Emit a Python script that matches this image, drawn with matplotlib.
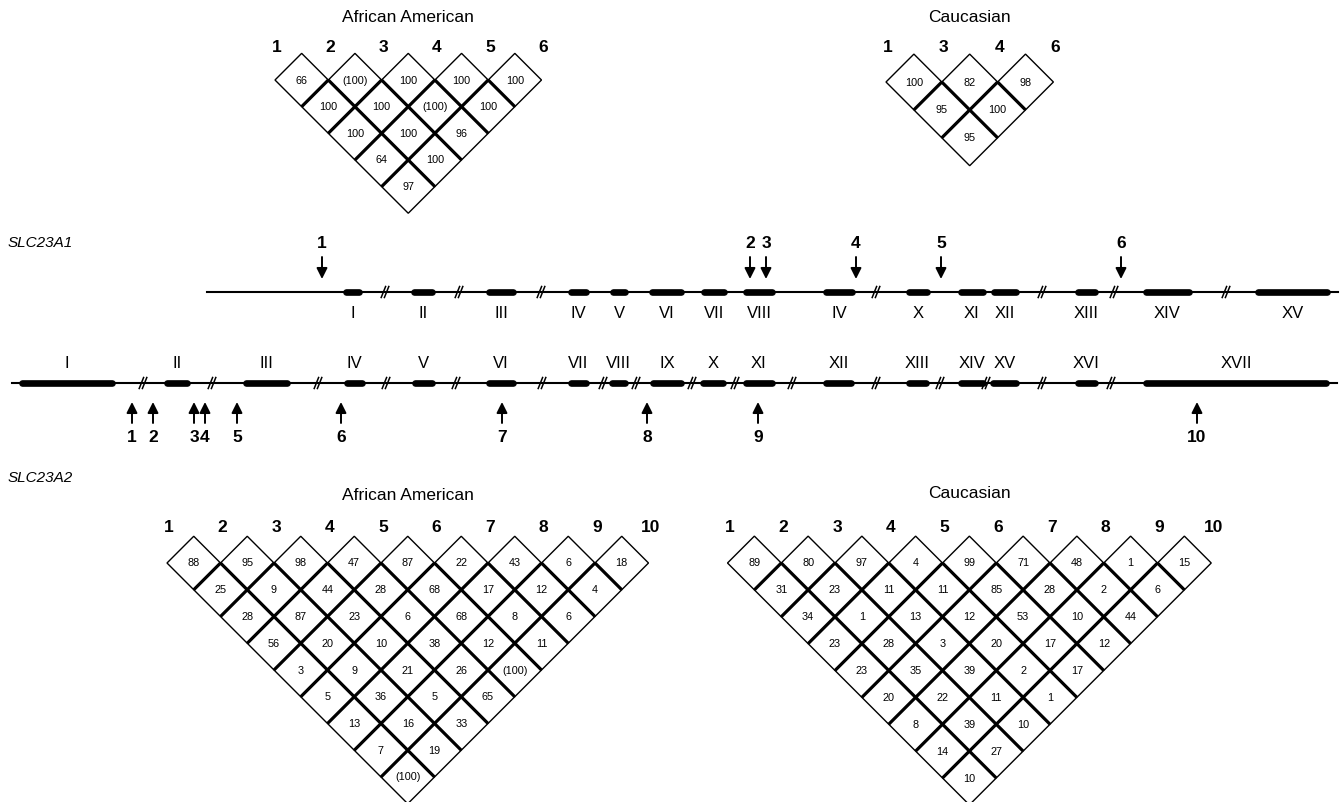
## LD maps and gene structure of SLC23A1 / SLC23A2
import numpy as np
import matplotlib
matplotlib.use('Agg')
import matplotlib.pyplot as plt

plt.rcParams['font.family'] = ['Liberation Sans', 'DejaVu Sans']

##------ LD values (D'), one list per diagonal row of the triangle ------##
a1_afr_snps = ['1', '2', '3', '4', '5', '6']
a1_afr_ld = [
    ['66', '(100)', '100', '100', '100'],
    ['100', '100', '(100)', '100'],
    ['100', '100', '96'],
    ['64', '100'],
    ['97'],
]
a1_cau_snps = ['1', '3', '4', '6']
a1_cau_ld = [
    ['100', '82', '98'],
    ['95', '100'],
    ['95'],
]
a2_snps = ['1', '2', '3', '4', '5', '6', '7', '8', '9', '10']
a2_afr_ld = [
    ['88', '95', '98', '47', '87', '22', '43', '6', '18'],
    ['25', '9', '44', '28', '68', '17', '12', '4'],
    ['28', '87', '23', '6', '68', '8', '6'],
    ['56', '20', '10', '38', '12', '11'],
    ['3', '9', '21', '26', '(100)'],
    ['5', '36', '5', '65'],
    ['13', '16', '33'],
    ['7', '19'],
    ['(100)'],
]
a2_cau_ld = [
    ['89', '80', '97', '4', '99', '71', '48', '1', '15'],
    ['31', '23', '11', '11', '85', '28', '2', '6'],
    ['34', '1', '13', '12', '53', '10', '44'],
    ['23', '28', '3', '20', '17', '12'],
    ['23', '35', '39', '2', '17'],
    ['20', '22', '11', '1'],
    ['8', '39', '10'],
    ['14', '27'],
    ['10'],
]

##------ gene maps (schematic map units) ------##
a1_span = (207, 1338)
a1_exon_lab = ['I', 'II', 'III', 'IV', 'V', 'VI', 'VII', 'VIII', 'IV', 'X',
               'XI', 'XII', 'XIII', 'XIV', 'XV']
a1_exon_start = [346, 414, 489, 571, 613, 652, 704, 746, 826, 909, 961, 994, 1078, 1146, 1258]
a1_exon_end = [359, 432, 513, 586, 625, 681, 724, 772, 852, 927, 983, 1016, 1095, 1189, 1327]
a1_breaks = [385, 459, 541, 876, 1042, 1114, 1226]
a1_snp_pos = [322, 750, 766, 856, 941, 1121]
a1_snp_lab = ['1', '2', '3', '4', '5', '6']

a2_span = (12, 1337)
a2_exon_lab = ['I', 'II', 'III', 'IV', 'V', 'VI', 'VII', 'VIII', 'IX', 'X', 'XI',
               'XII', 'XIII', 'XIV', 'XV', 'XVI', 'XVII']
a2_exon_start = [22, 167, 246, 347, 415, 489, 571, 612, 653, 703, 746, 826, 909, 961, 993, 1078, 1146]
a2_exon_end = [112, 187, 287, 362, 432, 513, 586, 625, 681, 723, 772, 851, 926, 983, 1016, 1095, 1326]
a2_breaks = [143, 212, 318, 386, 456, 542, 603, 636, 692, 735, 792, 876, 940, 986, 1042, 1111]
a2_snp_pos = [132, 153, 194, 205, 237, 341, 502, 647, 758, 1197]
a2_snp_lab = ['1', '2', '3', '4', '5', '6', '7', '8', '9', '10']

fig = plt.figure(figsize=(13.41, 8.02), dpi=100)
ax = fig.add_axes([0, 0, 1, 1])
ax.set_xlim(0, 1341)
ax.set_ylim(802, 0)
ax.axis('off')


def ld_triangle(rows, snps, x0, s, yc, title, ylab, ytitle):
    n = len(snps)
    h = s / 2.0

    def xy(a, b):
        return x0 + s * (a + b - 2) / 2.0, yc + (b - a - 1) * h

    for d, row in enumerate(rows, start=1):
        for k, val in enumerate(row):
            a, b = k + 1, k + 1 + d
            cx, cy = xy(a, b)
            poly = plt.Polygon([(cx - h, cy), (cx, cy - h), (cx + h, cy), (cx, cy + h)],
                               closed=True, facecolor='white', edgecolor='black', lw=1.0)
            ax.add_patch(poly)
            ax.text(cx, cy + 0.5, val, ha='center', va='center', fontsize=7.8)
    # thick shared edges between neighbouring cells
    for d in range(1, n):
        for k in range(n - d):
            a, b = k + 1, k + 1 + d
            if a + 1 < b:
                p, q = xy(a + 0.5, b - 0.5), xy(a + 0.5, b + 0.5)
                ax.plot([p[0], q[0]], [p[1], q[1]], color='black', lw=2.3, solid_capstyle='butt')
            if b + 1 <= n:
                p, q = xy(a - 0.5, b + 0.5), xy(a + 0.5, b + 0.5)
                ax.plot([p[0], q[0]], [p[1], q[1]], color='black', lw=2.3, solid_capstyle='butt')
    for i, lab in enumerate(snps):
        ax.text(x0 + i * s + 2, ylab, lab, ha='center', va='center',
                fontsize=12.5, fontweight='bold')
    ax.text(x0 + (n - 1) * s / 2.0, ytitle, title, ha='center', va='center', fontsize=12.5)


def gene_map(span, starts, ends, labels, breaks, snp_pos, snp_lab, yline, ylab,
             arrow_down, name, yname):
    ax.plot(span, [yline, yline], color='black', lw=1.5, zorder=1)
    for x1, x2, lab in zip(starts, ends, labels):
        ax.plot([x1, x2], [yline, yline], color='black', lw=4.8,
                solid_capstyle='round', zorder=2)
        ax.text((x1 + x2) / 2.0, ylab, lab, ha='center', va='center', fontsize=12)
    for xb in breaks:
        for off in (-1.6, 1.6):
            ax.plot([xb + off - 2.2, xb + off + 2.2], [yline + 5.5, yline - 5.5],
                    color='black', lw=1.1, zorder=3)
    for xs, lab in zip(snp_pos, snp_lab):
        if arrow_down:
            tail, tip, ynum = yline - 35, yline - 13, yline - 49
        else:
            tail, tip, ynum = yline + 40, yline + 19, yline + 55
        ax.annotate('', xy=(xs, tip), xytext=(xs, tail),
                    arrowprops=dict(arrowstyle='-|>', color='black', lw=1.4,
                                    mutation_scale=16, shrinkA=0, shrinkB=0))
        ax.text(xs, ynum, lab, ha='center', va='center', fontsize=12.5, fontweight='bold')
    ax.text(8, yname, name, ha='left', va='center', fontsize=11, style='italic')


ld_triangle(a1_afr_ld, a1_afr_snps, 275, 53.3, 80, 'African American', 48, 18)
ld_triangle(a1_cau_ld, a1_cau_snps, 886, 55.8, 82, 'Caucasian', 48, 18)
ld_triangle(a2_afr_ld, a2_snps, 167, 53.5, 563, 'African American', 528, 495)
ld_triangle(a2_cau_ld, a2_snps, 727.5, 53.75, 563, 'Caucasian', 528, 494)

gene_map(a1_span, a1_exon_start, a1_exon_end, a1_exon_lab, a1_breaks,
         a1_snp_pos, a1_snp_lab, 292, 313, True, 'SLC23A1', 243)
gene_map(a2_span, a2_exon_start, a2_exon_end, a2_exon_lab, a2_breaks,
         a2_snp_pos, a2_snp_lab, 383, 363, False, 'SLC23A2', 478)

fig.savefig('out.png', dpi=100, facecolor='white')
